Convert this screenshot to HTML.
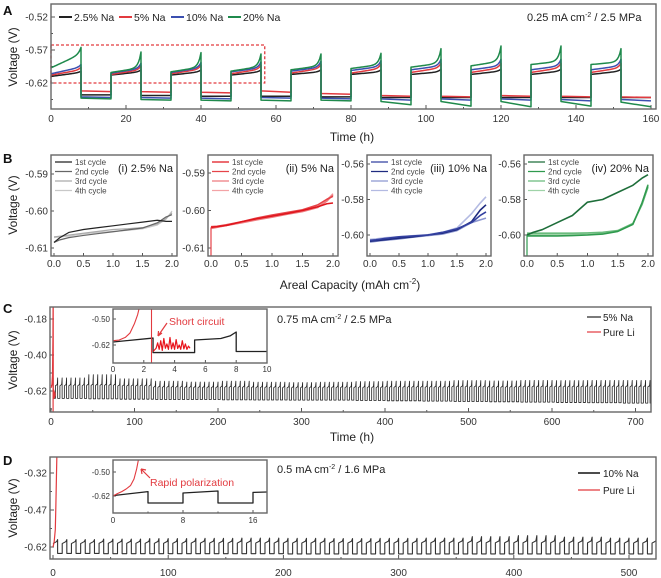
<!DOCTYPE html>
<html><head><meta charset="utf-8">
<style>
html,body{margin:0;padding:0;background:#fff;}
svg{display:block;font-family:"Liberation Sans",Arial,sans-serif;}
</style></head>
<body>
<svg id="fig" width="661" height="578" viewBox="0 0 661 578" xmlns="http://www.w3.org/2000/svg">
<defs>
<clipPath id="clipA"><rect x="51" y="4" width="605" height="105"/></clipPath>
<clipPath id="clipB1"><rect x="51" y="155" width="126" height="101"/></clipPath>
<clipPath id="clipB2"><rect x="208" y="155" width="130" height="101"/></clipPath>
<clipPath id="clipB3"><rect x="367" y="155" width="124" height="101"/></clipPath>
<clipPath id="clipB4"><rect x="524" y="155" width="129" height="101"/></clipPath>
<clipPath id="clipC"><rect x="50" y="307" width="601" height="105"/></clipPath>
<clipPath id="clipCi"><rect x="113" y="309" width="154" height="54"/></clipPath>
<clipPath id="clipD"><rect x="50" y="457" width="606" height="102"/></clipPath>
<clipPath id="clipDi"><rect x="113" y="460" width="154" height="53"/></clipPath>
</defs>
<g font-weight="bold" font-size="13" fill="#111">
<text x="3" y="15">A</text>
<text x="3" y="163">B</text>
<text x="3" y="313">C</text>
<text x="3" y="465">D</text>
</g>
<g font-size="12" fill="#222" text-anchor="middle">
<text transform="translate(17,57) rotate(-90)">Voltage (V)</text>
<text transform="translate(17,205) rotate(-90)">Voltage (V)</text>
<text transform="translate(17,360) rotate(-90)">Voltage (V)</text>
<text transform="translate(17,508) rotate(-90)">Voltage (V)</text>
<text x="352" y="141">Time (h)</text>
<text x="350" y="289">Areal Capacity (mAh cm<tspan font-size="8" dy="-5">-2</tspan><tspan dy="5">)</tspan></text>
<text x="352" y="441">Time (h)</text>
</g>
<g font-size="11" fill="#222">
<text x="527" y="21">0.25 mA cm<tspan font-size="7" dy="-4">-2</tspan><tspan dy="4"> / 2.5 MPa</tspan></text>
<text x="277" y="323">0.75 mA cm<tspan font-size="7" dy="-4">-2</tspan><tspan dy="4"> / 2.5 MPa</tspan></text>
<text x="277" y="473">0.5 mA cm<tspan font-size="7" dy="-4">-2</tspan><tspan dy="4"> / 1.6 MPa</tspan></text>
</g>
<g id="plots"></g>
</svg>
<script>
// ---------- Panel A data (per cycle, 10 cycles of 16 h) ----------
const aSeries = ['2.5% Na','5% Na','10% Na','20% Na'];
const aColors = ['#222222','#e23a3f','#3b4fb0','#1f8a4c'];
const aBlackUpStart = [-0.610,-0.608,-0.608,-0.608,-0.607,-0.607,-0.607,-0.607,-0.607,-0.607];
const aBlackUpEnd   = [-0.604,-0.603,-0.603,-0.603,-0.603,-0.603,-0.603,-0.602,-0.602,-0.602];
const aBlackPeak    = [-0.602,-0.600,-0.600,-0.600,-0.600,-0.600,-0.599,-0.599,-0.599,-0.599];
const aBlackLowS    = [-0.638,-0.639,-0.640,-0.640,-0.641,-0.642,-0.642,-0.642,-0.642,-0.642];
const aBlackLowE    = [-0.638,-0.639,-0.640,-0.640,-0.641,-0.642,-0.642,-0.642,-0.642,-0.642];
const aRedUpStart = [-0.608,-0.607,-0.606,-0.606,-0.605,-0.605,-0.604,-0.604,-0.604,-0.604];
const aRedUpEnd   = [-0.600,-0.600,-0.599,-0.599,-0.598,-0.598,-0.597,-0.597,-0.597,-0.597];
const aRedPeak    = [-0.596,-0.594,-0.593,-0.593,-0.592,-0.591,-0.590,-0.590,-0.590,-0.590];
const aRedLowS    = [-0.632,-0.633,-0.634,-0.632,-0.636,-0.639,-0.640,-0.639,-0.640,-0.641];
const aRedLowE    = [-0.633,-0.634,-0.635,-0.634,-0.637,-0.640,-0.641,-0.640,-0.641,-0.642];
const aBlueUpStart = [-0.606,-0.605,-0.604,-0.603,-0.602,-0.601,-0.600,-0.600,-0.600,-0.600];
const aBlueUpEnd   = [-0.596,-0.598,-0.597,-0.597,-0.596,-0.595,-0.594,-0.594,-0.594,-0.594];
const aBluePeak    = [-0.592,-0.590,-0.589,-0.588,-0.587,-0.586,-0.584,-0.584,-0.584,-0.584];
const aBlueLowS    = [-0.641,-0.642,-0.643,-0.642,-0.643,-0.644,-0.644,-0.644,-0.645,-0.645];
const aBlueLowE    = [-0.642,-0.643,-0.644,-0.643,-0.644,-0.646,-0.646,-0.646,-0.647,-0.647];
const aGreenUpStart = [-0.597,-0.604,-0.603,-0.602,-0.600,-0.598,-0.596,-0.594,-0.592,-0.592];
const aGreenUpEnd   = [-0.576,-0.597,-0.596,-0.595,-0.594,-0.592,-0.590,-0.587,-0.587,-0.588];
const aGreenPeak    = [-0.566,-0.573,-0.574,-0.576,-0.576,-0.575,-0.568,-0.564,-0.564,-0.568];
const aGreenLowS    = [-0.643,-0.645,-0.646,-0.646,-0.646,-0.648,-0.648,-0.648,-0.648,-0.649];
const aGreenLowE    = [-0.644,-0.646,-0.647,-0.647,-0.647,-0.653,-0.655,-0.656,-0.655,-0.656];

// ---------- Panel B data ----------
const bCap = [0,0.1,0.25,0.5,0.75,1.0,1.25,1.5,1.75,1.9,2.0];
const bCycles = ['1st cycle','2nd cycle','3rd cycle','4th cycle'];
const b1c1 = [-0.6085,-0.6072,-0.6058,-0.6050,-0.6045,-0.6040,-0.6035,-0.6030,-0.6025,-0.6028,-0.6028];
const b1c2 = [-0.6085,-0.6078,-0.6072,-0.6066,-0.6061,-0.6056,-0.6051,-0.6046,-0.6032,-0.6016,-0.6010];
const b1c3 = [-0.6070,-0.6068,-0.6065,-0.6060,-0.6055,-0.6050,-0.6048,-0.6045,-0.6035,-0.6020,-0.6005];
const b1c4 = [-0.6072,-0.6070,-0.6068,-0.6062,-0.6058,-0.6055,-0.6052,-0.6048,-0.6038,-0.6022,-0.6000];
const b2c1 = [-0.6045,-0.6043,-0.6040,-0.6030,-0.6022,-0.6015,-0.6008,-0.6000,-0.5990,-0.5982,-0.5980];
const b2c2 = [-0.6043,-0.6042,-0.6038,-0.6030,-0.6020,-0.6012,-0.6005,-0.5998,-0.5985,-0.5970,-0.5962];
const b2c3 = [-0.6048,-0.6045,-0.6040,-0.6033,-0.6025,-0.6018,-0.6010,-0.6003,-0.5992,-0.5975,-0.5958];
const b2c4 = [-0.6046,-0.6044,-0.6040,-0.6032,-0.6024,-0.6016,-0.6008,-0.6000,-0.5990,-0.5972,-0.5955];
const b3c1 = [-0.6030,-0.6027,-0.6020,-0.6010,-0.6005,-0.6000,-0.5985,-0.5965,-0.5930,-0.5890,-0.5870];
const b3c2 = [-0.6035,-0.6032,-0.6027,-0.6018,-0.6010,-0.6000,-0.5990,-0.5970,-0.5925,-0.5860,-0.5830];
const b3c3 = [-0.6040,-0.6036,-0.6030,-0.6022,-0.6012,-0.6003,-0.5995,-0.5975,-0.5930,-0.5915,-0.5905];
const b3c4 = [-0.6025,-0.6022,-0.6016,-0.6010,-0.6004,-0.5998,-0.5985,-0.5960,-0.5880,-0.5820,-0.5785];
const b4up  = [-0.6000,-0.5985,-0.5970,-0.5930,-0.5890,-0.5815,-0.5800,-0.5760,-0.5720,-0.5680,-0.5660];
const b4low1 = [-0.6005,-0.6005,-0.6005,-0.6005,-0.6003,-0.6000,-0.5995,-0.5980,-0.5940,-0.5820,-0.5720];
const b4low2 = [-0.5990,-0.5990,-0.5990,-0.5990,-0.5990,-0.5988,-0.5985,-0.5975,-0.5935,-0.5830,-0.5730];
const b4low3 = [-0.5998,-0.5998,-0.5998,-0.5997,-0.5996,-0.5994,-0.5990,-0.5978,-0.5938,-0.5825,-0.5715];

// ---------- Panel C data (blocks of 40 h) ----------
const cBlockHours = [0,40,80,120,160,200,240,280,320,360,400,440,480,520,560,600,640,680];
const cUpper = [-0.580,-0.578,-0.582,-0.590,-0.592,-0.590,-0.592,-0.593,-0.592,-0.592,-0.590,-0.590,-0.588,-0.590,-0.588,-0.588,-0.587,-0.587];
const cPeak  = [-0.540,-0.520,-0.545,-0.560,-0.565,-0.560,-0.566,-0.568,-0.566,-0.562,-0.560,-0.560,-0.556,-0.558,-0.555,-0.556,-0.555,-0.555];
const cLower = [-0.665,-0.668,-0.670,-0.672,-0.672,-0.674,-0.675,-0.676,-0.676,-0.678,-0.680,-0.682,-0.684,-0.686,-0.688,-0.690,-0.692,-0.694];
const cLiT = [0,0.6,1.2,1.8,2.3,2.5,2.6,3.0,3.4,3.8,4.2,4.6,5.0];
const cLiV = [-0.600,-0.595,-0.575,-0.520,-0.300,-0.100,-0.660,-0.610,-0.665,-0.620,-0.660,-0.630,-0.650];
const ciBlackT = [0,2.6,2.6,5.3,5.3,7.0,7.6,8.0,8.0,10];
const ciBlackV = [-0.606,-0.588,-0.655,-0.655,-0.597,-0.590,-0.578,-0.560,-0.650,-0.650];
const ciLiCurveT = [0,0.4,0.8,1.1,1.4,1.6,1.7];
const ciLiCurveV = [-0.600,-0.597,-0.585,-0.565,-0.520,-0.480,-0.450];
const ciLiNoiseT = [2.6,2.8,2.9,3.0,3.1,3.2,3.3,3.4,3.5,3.6,3.7,3.8,3.9,4.0,4.1,4.2,4.3,4.4,4.5,4.6,4.7,4.8,4.9,5.0];
const ciLiNoiseV = [-0.650,-0.635,-0.610,-0.640,-0.600,-0.645,-0.590,-0.635,-0.615,-0.640,-0.585,-0.638,-0.610,-0.640,-0.595,-0.636,-0.620,-0.640,-0.600,-0.638,-0.615,-0.640,-0.625,-0.635];

// ---------- Panel D data (blocks of 40 h) ----------
const dBlockHours = [0,40,80,120,160,200,240,280,320,360,400,440,480];
const dUpper = [-0.598,-0.597,-0.597,-0.596,-0.596,-0.596,-0.596,-0.596,-0.595,-0.595,-0.595,-0.595,-0.596];
const dPeak  = [-0.590,-0.588,-0.586,-0.585,-0.584,-0.585,-0.586,-0.585,-0.584,-0.578,-0.574,-0.580,-0.584];
const dLower = [-0.646,-0.647,-0.647,-0.647,-0.647,-0.648,-0.648,-0.648,-0.648,-0.648,-0.648,-0.648,-0.648];
const dLiT = [0,1,2,2.5,3,3.4];
const dLiV = [-0.620,-0.600,-0.550,-0.450,-0.330,-0.240];
const diBlackT = [0,4,4,8,8,12,12,16,16,17.6];
const diBlackV = [-0.618,-0.598,-0.655,-0.655,-0.605,-0.595,-0.655,-0.655,-0.602,-0.600];
const diLiT = [0,0.5,1,1.5,2,2.4,2.7,2.9];
const diLiV = [-0.620,-0.608,-0.598,-0.585,-0.568,-0.535,-0.485,-0.440];

// ---------- helpers ----------
const NS = 'http://www.w3.org/2000/svg';
const root = document.getElementById('plots');
function mk(tag, attrs, name, parent) {
  const el = document.createElementNS(NS, tag);
  for (const k in attrs) el.setAttribute(k, attrs[k]);
  
  
  (parent || root).appendChild(el);
  return el;
}
function linScale(d0, d1, r0, r1) { return v => r0 + (v - d0) * (r1 - r0) / (d1 - d0); }
function pathFrom(ts, vs, sx, sy) {
  let d = '';
  for (let i = 0; i < ts.length; i++) d += (i ? 'L' : 'M') + sx(ts[i]).toFixed(2) + ' ' + sy(vs[i]).toFixed(2);
  return d;
}
function drawLine(ts, vs, sx, sy, color, w, clip, name, g) {
  return mk('path', {d: pathFrom(ts, vs, sx, sy), fill: 'none', stroke: color, 'stroke-width': w, 'stroke-linejoin': 'round', 'clip-path': 'url(#' + clip + ')'}, name, g);
}
function axes(c) {
  const g = mk('g', {}, c.name, root);
  const tl = c.tick || 4;
  (c.xticks || []).forEach(v => {
    const x = c.sx(v);
    mk('line', {x1: x, x2: x, y1: c.y1, y2: c.y1 - tl, stroke: '#555', 'stroke-width': 1}, 'x-tick', g);
    mk('text', {x: x, y: c.xLabelY, 'text-anchor': 'middle', 'font-size': c.fs, fill: '#333'}, 'x-tick-label', g).textContent = c.xfmt ? c.xfmt(v) : String(v);
  });
  (c.xminor || []).forEach(v => {
    const x = c.sx(v);
    mk('line', {x1: x, x2: x, y1: c.y1, y2: c.y1 - tl / 2, stroke: '#555', 'stroke-width': 1}, 'x-minor-tick', g);
  });
  (c.yticks || []).forEach(v => {
    const y = c.sy(v);
    mk('line', {x1: c.x0, x2: c.x0 + tl, y1: y, y2: y, stroke: '#555', 'stroke-width': 1}, 'y-tick', g);
    mk('text', {x: c.x0 - 3, y: y + c.fs * 0.36, 'text-anchor': 'end', 'font-size': c.fs, fill: '#333'}, 'y-tick-label', g).textContent = v.toFixed(2);
  });
  (c.yminor || []).forEach(v => {
    const y = c.sy(v);
    mk('line', {x1: c.x0, x2: c.x0 + tl / 2, y1: y, y2: y, stroke: '#555', 'stroke-width': 1}, 'y-minor-tick', g);
  });
  return g;
}
function frame(c, name) {
  mk('rect', {x: c.x0, y: c.y0, width: c.x1 - c.x0, height: c.y1 - c.y0, fill: 'none', stroke: '#666', 'stroke-width': 1.4}, name, root);
}

// ---------- Panel A ----------
(function () {
  const sx = linScale(0, 160, 51, 651);
  const sy = linScale(-0.52, -0.62, 17, 83);
  const c = {name: 'panel-a-axes', x0: 51, x1: 656, y0: 4, y1: 109, sx, sy, fs: 10, xLabelY: 122,
    xticks: [0,20,40,60,80,100,120,140,160], xminor: [10,30,50,70,90,110,130,150],
    yticks: [-0.52,-0.57,-0.62], yminor: [-0.545,-0.595,-0.645]};
  axes(c);
  mk('rect', {x: 51, y: 45, width: sx(57) - 51, height: 38, fill: 'none', stroke: '#e23a3f', 'stroke-width': 1.3, 'stroke-dasharray': '3 2'}, 'a-zoom-region-box', root);
  const sets = [
    [aBlackUpStart, aBlackUpEnd, aBlackPeak, aBlackLowS, aBlackLowE],
    [aRedUpStart, aRedUpEnd, aRedPeak, aRedLowS, aRedLowE],
    [aBlueUpStart, aBlueUpEnd, aBluePeak, aBlueLowS, aBlueLowE],
    [aGreenUpStart, aGreenUpEnd, aGreenPeak, aGreenLowS, aGreenLowE]
  ];
  const g = mk('g', {}, 'a-series-group', root);
  sets.forEach((s, si) => {
    const ts = [], vs = [];
    for (let k = 0; k < s[0].length; k++) {
      const t0 = k * 16;
      for (let j = 0; j <= 24; j++) {
        const tt = 8 * j / 24;
        ts.push(t0 + tt);
        vs.push(s[0][k] + (s[1][k] - s[0][k]) * (tt / 8) + (s[2][k] - s[1][k]) * Math.exp((tt - 8) / 0.7));
      }
      ts.push(t0 + 8); vs.push(s[3][k]);
      ts.push(t0 + 16); vs.push(s[4][k]);
      if (k < s[0].length - 1) { ts.push(t0 + 16); vs.push(s[0][k + 1]); }
    }
    const p = drawLine(ts, vs, sx, sy, aColors[si], 1.5, 'clipA', 'a-line-series', g);
    
  });
  frame(c, 'panel-a-frame');
  const lx = [59, 119, 171, 228];
  aSeries.forEach((s, i) => {
    const lg = mk('g', {}, 'a-legend-entry', root);
    mk('line', {x1: lx[i], x2: lx[i] + 13, y1: 17, y2: 17, stroke: aColors[i], 'stroke-width': 2}, 'a-legend-swatch', lg);
    mk('text', {x: lx[i] + 15, y: 21, 'font-size': 10.5, fill: '#222'}, 'a-legend-label', lg).textContent = s;
  });
})();

// ---------- Panel B ----------
(function () {
  const panels = [
    {x0: 51, x1: 177, title: '(i) 2.5% Na', clip: 'clipB1', yt: [-0.59,-0.60,-0.61], yref: [-0.59, 174, -0.61, 248],
     data: [b1c1, b1c2, b1c3, b1c4], colors: ['#222','#666','#aaa','#c8c8c8']},
    {x0: 208, x1: 338, title: '(ii) 5% Na', clip: 'clipB2', yt: [-0.59,-0.60,-0.61], yref: [-0.59, 173, -0.61, 248],
     data: [b2c1, b2c2, b2c3, b2c4], colors: ['#e0161d','#e64449','#ee7b7f','#f3a3a6']},
    {x0: 367, x1: 491, title: '(iii) 10% Na', clip: 'clipB3', yt: [-0.56,-0.58,-0.60], yref: [-0.56, 164, -0.60, 235],
     data: [b3c1, b3c2, b3c3, b3c4], colors: ['#3340a0','#1f2b80','#8c96d0','#b3bae2']},
    {x0: 524, x1: 653, title: '(iv) 20% Na', clip: 'clipB4', yt: [-0.56,-0.58,-0.60], yref: [-0.56, 164, -0.60, 235],
     data: [b4up, b4low1, b4low2, b4low3], colors: ['#1e6e3a','#2f9a4e','#69bb7c','#9fd3a8']}
  ];
  panels.forEach((P, pi) => {
    const sx = linScale(0, 2, P.x0 + 3, P.x1 - 5);
    const sy = linScale(P.yref[0], P.yref[2], P.yref[1], P.yref[3]);
    const c = {name: 'panel-b' + (pi + 1) + '-axes', x0: P.x0, x1: P.x1, y0: 155, y1: 256, sx, sy, fs: 10, xLabelY: 267,
      xticks: [0,0.5,1,1.5,2], xfmt: v => v.toFixed(1), yticks: P.yt, tick: 3};
    axes(c);
    const g = mk('g', {}, 'b' + (pi + 1) + '-series-group', root);
    for (let i = P.data.length - 1; i >= 0; i--) {
      drawLine(bCap, P.data[i], sx, sy, P.colors[i], pi === 0 ? 1.2 : 1.6, P.clip, 'b-cycle-line', g);
    }
    if (pi === 1 || pi === 3) {
      mk('line', {x1: sx(0), x2: sx(0), y1: sy(P.data[0][0]), y2: 256, stroke: P.colors[1], 'stroke-width': 1.2}, 'b-initial-drop', g);
    }
    frame(c, 'panel-b' + (pi + 1) + '-frame');
    bCycles.forEach((lab, i) => {
      const lg = mk('g', {}, 'b-legend-entry', root);
      const y = 162 + i * 9.5;
      mk('line', {x1: P.x0 + 4, x2: P.x0 + 21, y1: y, y2: y, stroke: P.colors[i], 'stroke-width': 1.2}, 'b-legend-swatch', lg);
      mk('text', {x: P.x0 + 24, y: y + 3, 'font-size': 8, fill: '#444'}, 'b-legend-label', lg).textContent = lab;
    });
    mk('text', {x: P.x1 - 4, y: 172, 'text-anchor': 'end', 'font-size': 11, fill: '#222'}, 'b-panel-title', root).textContent = P.title;
  });
})();

// square wave builder from block arrays
function squareWave(blockHours, upper, peak, lower, half, tEnd, firstRiseExtra) {
  const ts = [], vs = [];
  let t = 0, k = 0;
  while (t < tEnd) {
    while (k < blockHours.length - 1 && t >= blockHours[k + 1]) k++;
    ts.push(t); vs.push(upper[k] - 0.008);
    ts.push(t + half * 0.8); vs.push(upper[k]);
    ts.push(t + half); vs.push(peak[k]);
    ts.push(t + half); vs.push(lower[k]);
    ts.push(t + 2 * half); vs.push(lower[k]);
    t += 2 * half;
  }
  return [ts, vs];
}

// ---------- Panel C ----------
(function () {
  const sx = linScale(0, 700, 51, 635.5);
  const sy = linScale(-0.18, -0.62, 319, 391);
  const c = {name: 'panel-c-axes', x0: 50, x1: 651, y0: 307, y1: 412, sx, sy, fs: 10, xLabelY: 425,
    xticks: [0,100,200,300,400,500,600,700], xminor: [50,150,250,350,450,550,650],
    yticks: [-0.18,-0.40,-0.62], yminor: [-0.29,-0.51,-0.73]};
  axes(c);
  const g = mk('g', {}, 'c-series-group', root);
  const w = squareWave(cBlockHours, cUpper, cPeak, cLower, 2.667, 718);
  drawLine(w[0], w[1], sx, sy, '#222', 0.8, 'clipC', 'c-line-5pct-na', g);
  drawLine(cLiT, cLiV, sx, sy, '#e23a3f', 1.2, 'clipC', 'c-line-pure-li', g);
  mk('line', {x1: sx(2.5), x2: sx(2.5), y1: 307, y2: 412, stroke: '#e23a3f', 'stroke-width': 1.2}, 'c-pure-li-short', g);
  frame(c, 'panel-c-frame');
  const lg1 = mk('g', {}, 'c-legend-entry', root);
  mk('line', {x1: 587, x2: 601, y1: 317, y2: 317, stroke: '#222', 'stroke-width': 1.2}, 'c-legend-swatch', lg1);
  mk('text', {x: 603, y: 321, 'font-size': 10, fill: '#222'}, 'c-legend-label', lg1).textContent = '5% Na';
  const lg2 = mk('g', {}, 'c-legend-entry', root);
  mk('line', {x1: 587, x2: 601, y1: 332, y2: 332, stroke: '#e23a3f', 'stroke-width': 1.2}, 'c-legend-swatch', lg2);
  mk('text', {x: 603, y: 336, 'font-size': 10, fill: '#222'}, 'c-legend-label', lg2).textContent = 'Pure Li';

  // inset
  const ix = linScale(0, 10, 113, 267);
  const iy = linScale(-0.50, -0.62, 319, 345);
  mk('rect', {x: 113, y: 309, width: 154, height: 54, fill: '#fff'}, 'c-inset-background', root);
  const ic = {name: 'c-inset-axes', x0: 113, x1: 267, y0: 309, y1: 363, sx: ix, sy: iy, fs: 8, xLabelY: 372,
    xticks: [0,2,4,6,8,10], yticks: [-0.50,-0.62], tick: 3};
  axes(ic);
  const ig = mk('g', {}, 'c-inset-series-group', root);
  drawLine(ciBlackT, ciBlackV, ix, iy, '#222', 1.3, 'clipCi', 'c-inset-line-5pct-na', ig);
  drawLine(ciLiCurveT, ciLiCurveV, ix, iy, '#e23a3f', 1.1, 'clipCi', 'c-inset-line-pure-li', ig);
  mk('line', {x1: ix(2.5), x2: ix(2.5), y1: 309, y2: 363, stroke: '#e23a3f', 'stroke-width': 1.1}, 'c-inset-short-line', ig);
  drawLine(ciLiNoiseT, ciLiNoiseV, ix, iy, '#e8141c', 1.2, 'clipCi', 'c-inset-short-noise', ig);
  frame(ic, 'c-inset-frame');
  mk('text', {x: 169, y: 325, 'font-size': 10.5, fill: '#e23a3f'}, 'c-short-circuit-label', root).textContent = 'Short circuit';
  mk('path', {d: 'M167 323 L158 336 M158 336 L158.5 331 M158 336 L162 333', stroke: '#e23a3f', 'stroke-width': 1.2, fill: 'none'}, 'c-short-circuit-arrow', root);
})();

// ---------- Panel D ----------
(function () {
  const sx = linScale(0, 500, 53, 629);
  const sy = linScale(-0.32, -0.62, 473, 547);
  const c = {name: 'panel-d-axes', x0: 50, x1: 656, y0: 457, y1: 559, sx, sy, fs: 10, xLabelY: 576,
    xticks: [0,100,200,300,400,500], xminor: [50,150,250,350,450],
    yticks: [-0.32,-0.47,-0.62], yminor: [-0.395,-0.545]};
  axes(c);
  const g = mk('g', {}, 'd-series-group', root);
  const w = squareWave(dBlockHours, dUpper, dPeak, dLower, 4, 524);
  drawLine(w[0], w[1], sx, sy, '#333', 1.1, 'clipD', 'd-line-10pct-na', g);
  drawLine(dLiT, dLiV, sx, sy, '#e23a3f', 1.2, 'clipD', 'd-line-pure-li', g);
  frame(c, 'panel-d-frame');
  const lg1 = mk('g', {}, 'd-legend-entry', root);
  mk('line', {x1: 578, x2: 600, y1: 473, y2: 473, stroke: '#333', 'stroke-width': 1.8}, 'd-legend-swatch', lg1);
  mk('text', {x: 603, y: 477, 'font-size': 10, fill: '#222'}, 'd-legend-label', lg1).textContent = '10% Na';
  const lg2 = mk('g', {}, 'd-legend-entry', root);
  mk('line', {x1: 578, x2: 600, y1: 490, y2: 490, stroke: '#e23a3f', 'stroke-width': 1.2}, 'd-legend-swatch', lg2);
  mk('text', {x: 603, y: 494, 'font-size': 10, fill: '#222'}, 'd-legend-label', lg2).textContent = 'Pure Li';

  const ix = linScale(0, 16, 113, 253);
  const iy = linScale(-0.50, -0.62, 472, 496);
  mk('rect', {x: 113, y: 460, width: 154, height: 53, fill: '#fff'}, 'd-inset-background', root);
  const ic = {name: 'd-inset-axes', x0: 113, x1: 267, y0: 460, y1: 513, sx: ix, sy: iy, fs: 8, xLabelY: 523,
    xticks: [0,8,16], xminor: [4,12], yticks: [-0.50,-0.62], tick: 3};
  axes(ic);
  const ig = mk('g', {}, 'd-inset-series-group', root);
  drawLine(diBlackT, diBlackV, ix, iy, '#222', 1.3, 'clipDi', 'd-inset-line-10pct-na', ig);
  drawLine(diLiT, diLiV, ix, iy, '#e23a3f', 1.1, 'clipDi', 'd-inset-line-pure-li', ig);
  frame(ic, 'd-inset-frame');
  mk('text', {x: 150, y: 486, 'font-size': 10.5, fill: '#e23a3f'}, 'd-rapid-polarization-label', root).textContent = 'Rapid polarization';
  mk('path', {d: 'M150 478 L141 469 M141 469 L146 470 M141 469 L142 474', stroke: '#e23a3f', 'stroke-width': 1.2, fill: 'none'}, 'd-rapid-polarization-arrow', root);
})();
</script>
</body></html>
